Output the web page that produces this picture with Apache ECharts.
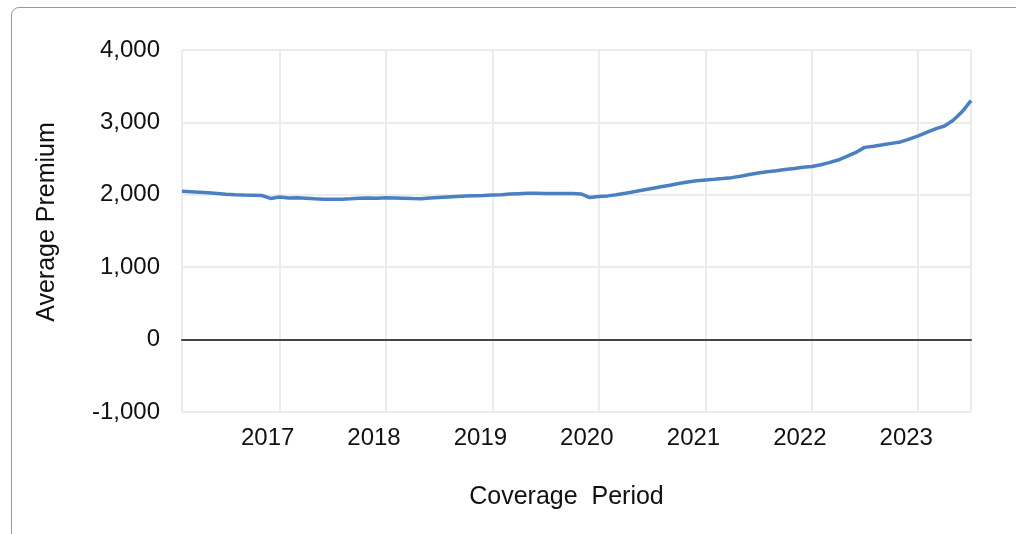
<!DOCTYPE html>
<html>
<head>
<meta charset="utf-8">
<script src="https://cdn.jsdelivr.net/npm/echarts@6/dist/echarts.min.js"></script>
<style>
  html, body { margin: 0; padding: 0; background: #ffffff; }
  #frame { position: absolute; left: 11px; top: 7px; width: 1030px; height: 560px;
           border: 1px solid #9b9b9b; border-radius: 8px; box-sizing: border-box; }
  #chart { position: absolute; left: 0; top: 0; width: 1016px; height: 534px; }
</style>
</head>
<body>
<div id="frame"></div>
<div id="chart"></div>
<script>
// Monthly coverage periods (Feb 2016 – Jul 2023)
const months = [
  '2016-02','2016-03','2016-04','2016-05','2016-06','2016-07','2016-08','2016-09','2016-10','2016-11','2016-12',
  '2017-01','2017-02','2017-03','2017-04','2017-05','2017-06','2017-07','2017-08','2017-09','2017-10','2017-11','2017-12',
  '2018-01','2018-02','2018-03','2018-04','2018-05','2018-06','2018-07','2018-08','2018-09','2018-10','2018-11','2018-12',
  '2019-01','2019-02','2019-03','2019-04','2019-05','2019-06','2019-07','2019-08','2019-09','2019-10','2019-11','2019-12',
  '2020-01','2020-02','2020-03','2020-04','2020-05','2020-06','2020-07','2020-08','2020-09','2020-10','2020-11','2020-12',
  '2021-01','2021-02','2021-03','2021-04','2021-05','2021-06','2021-07','2021-08','2021-09','2021-10','2021-11','2021-12',
  '2022-01','2022-02','2022-03','2022-04','2022-05','2022-06','2022-07','2022-08','2022-09','2022-10','2022-11','2022-12',
  '2023-01','2023-02','2023-03','2023-04','2023-05','2023-06','2023-07'
];
// Average premium per month
const premiums = [
  2048,2042,2035,2028,2019,2008,2000,1997,1995,1990,1950,
  1970,1955,1958,1952,1946,1940,1937,1940,1946,1952,1957,1954,
  1958,1957,1954,1948,1945,1955,1963,1970,1977,1983,1988,1992,
  1997,2002,2010,2016,2021,2020,2018,2017,2017,2018,2012,1962,
  1975,1985,2000,2021,2043,2065,2088,2110,2132,2155,2178,2194,
  2205,2215,2225,2237,2255,2280,2302,2318,2333,2348,2362,2380,
  2392,2415,2445,2480,2530,2585,2655,2670,2690,2710,2730,2770,
  2815,2865,2910,2950,3030,3150,3300
];
const yTicks = { min: -1000, max: 4000, step: 1000 };
const xTitle = 'Coverage  Period';
const yTitle = 'Average Premium';

const seriesData = months.map((m, i) => [m + '-01', premiums[i]]);
const font = '"Liberation Sans", Arial, sans-serif';

const chart = echarts.init(document.getElementById('chart'), null, { renderer: 'canvas' });
chart.setOption({
  backgroundColor: 'transparent',
  animation: false,
  grid: { left: 182, right: 45, top: 50, bottom: 122, containLabel: false },
  xAxis: {
    type: 'time',
    min: months[0] + '-01',
    max: months[months.length - 1] + '-01',
    splitNumber: 8,
    minInterval: 365 * 24 * 3600 * 1000,
    maxInterval: 366 * 24 * 3600 * 1000,
    name: xTitle,
    nameLocation: 'middle',
    nameGap: 73,
    nameTextStyle: { fontFamily: font, fontSize: 25, color: '#111', padding: [0, 20, 0, 0] },
    axisLine: { show: true, onZero: true, lineStyle: { color: '#444', width: 2 } },
    axisTick: { show: false },
    splitLine: { show: true, lineStyle: { color: '#ececec', width: 2 } },
    axisLabel: {
      fontFamily: font, fontSize: 24, color: '#111', margin: 14,
      padding: [0, 24, 0, 0],
      showMinLabel: false, showMaxLabel: false,
      hideOverlap: false,
      formatter: (v) => String(new Date(v).getFullYear())
    }
  },
  yAxis: {
    type: 'value',
    min: yTicks.min, max: yTicks.max, interval: yTicks.step,
    name: yTitle,
    nameLocation: 'middle',
    nameGap: 122,
    nameTextStyle: { fontFamily: font, fontSize: 25, color: '#111', padding: [0, 0, 0, 18] },
    axisLine: { show: false },
    axisTick: { show: false },
    splitLine: { show: true, lineStyle: { color: '#ececec', width: 2 } },
    axisLabel: {
      fontFamily: font, fontSize: 24, color: '#111', margin: 22,
      formatter: (v) => v.toLocaleString('en-US')
    }
  },
  series: [{
    type: 'line',
    data: seriesData,
    showSymbol: false,
    smooth: false,
    lineStyle: { color: '#4a80c2', width: 3.5 },
    z: 5
  }]
});
</script>
</body>
</html>
